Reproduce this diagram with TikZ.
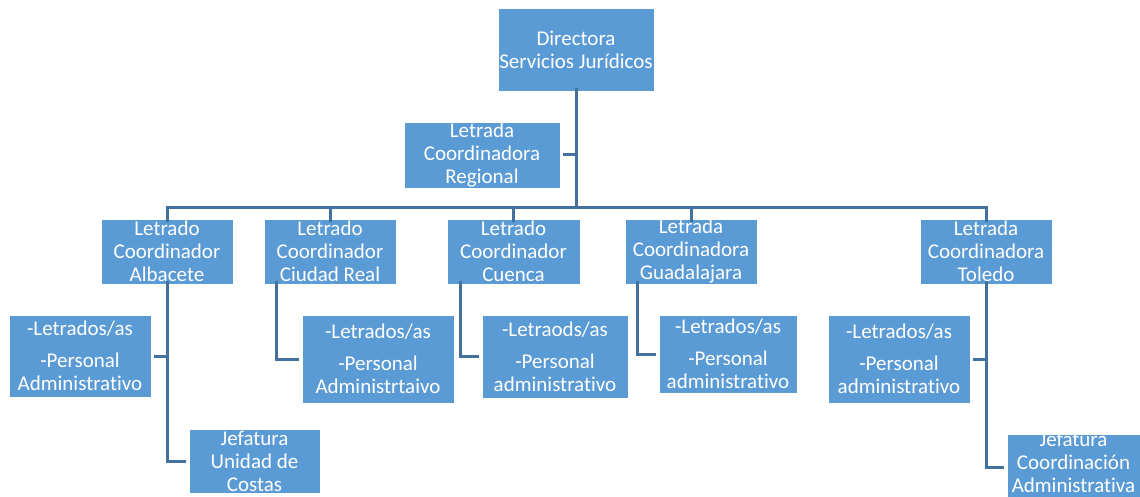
\documentclass[tikz,border=0pt]{standalone}
\usepackage{fontspec}
\setmainfont{Carlito}[Ligatures=NoCommon]
\definecolor{boxblue}{HTML}{5B9BD5}
\definecolor{lineblue}{HTML}{41719C}
\begin{document}
\begin{tikzpicture}[x=1pt,y=-1pt,
  orgbox/.style={rectangle,fill=boxblue,draw=white,line width=0.8pt,inner sep=0pt,outer sep=0pt},
  orgtext/.style={text=white,align=center,inner sep=0pt,font=\fontsize{21}{23}\selectfont},
  conn/.style={draw=lineblue,line width=3pt}]
\clip (0,0) rectangle (1140,497);
\useasboundingbox (0,0) rectangle (1140,497);
\fill[white] (0,0) rectangle (1140,497);
% boxes
\node[orgbox,minimum width=156pt,minimum height=83pt] (dir) at (576,49.5) {};
\node[orgbox,minimum width=156pt,minimum height=66pt] (reg) at (482,155) {};
\node[orgbox,minimum width=132pt,minimum height=65pt] (alb) at (167,251.5) {};
\node[orgbox,minimum width=132pt,minimum height=65pt] (ciu) at (330,251.5) {};
\node[orgbox,minimum width=133pt,minimum height=65pt] (cue) at (513.5,251.5) {};
\node[orgbox,minimum width=132pt,minimum height=65pt] (gua) at (691,251.5) {};
\node[orgbox,minimum width=132pt,minimum height=65pt] (tol) at (986,251.5) {};
\node[orgbox,minimum width=142pt,minimum height=82pt] (albL) at (80,356) {};
\node[orgbox,minimum width=131pt,minimum height=64pt] (albJ) at (254.5,461) {};
\node[orgbox,minimum width=152pt,minimum height=88pt] (ciuL) at (378,359) {};
\node[orgbox,minimum width=146pt,minimum height=83pt] (cueL) at (555,356.5) {};
\node[orgbox,minimum width=138pt,minimum height=78pt] (guaL) at (728,354) {};
\node[orgbox,minimum width=142pt,minimum height=88pt] (tolL) at (899,359) {};
\node[orgbox,minimum width=133pt,minimum height=66pt] (tolJ) at (1073.5,467) {};
% texts
\node[orgtext] (tdir) at (dir.center) {Directora\\Servicios Jurídicos};
\node[orgtext] (treg) at (reg.center) {Letrada\\Coordinadora\\Regional};
\node[orgtext] (talb) at (alb.center) {Letrado\\Coordinador\\Albacete};
\node[orgtext] (tciu) at (ciu.center) {Letrado\\Coordinador\\Ciudad Real};
\node[orgtext] (tcue) at (cue.center) {Letrado\\Coordinador\\Cuenca};
\node[orgtext] (tgua) at (gua.center) {Letrada\\Coordinadora\\Guadalajara};
\node[orgtext] (ttol) at (tol.center) {Letrada\\Coordinadora\\Toledo};
\node[orgtext] (talbL) at (albL.center) {-Letrados/as\\[9pt]-Personal\\Administrativo};
\node[orgtext] (talbJ) at (albJ.center) {Jefatura\\Unidad de\\Costas};
\node[orgtext] (tciuL) at (ciuL.center) {-Letrados/as\\[9pt]-Personal\\Administrtaivo};
\node[orgtext] (tcueL) at (cueL.center) {-Letraods/as\\[9pt]-Personal\\administrativo};
\node[orgtext] (tguaL) at (guaL.center) {-Letrados/as\\[9pt]-Personal\\administrativo};
\node[orgtext] (ttolL) at (tolL.center) {-Letrados/as\\[9pt]-Personal\\administrativo};
\node[orgtext] (ttolJ) at (1073.5,462) {Jefatura\\Coordinación\\Administrativa};
% connectors
\coordinate (bus) at (576,208);
\draw[conn] ([yshift=3pt]dir.south) -- (bus);
\draw[conn] ([xshift=3pt]reg.east) -- (reg.east -| dir.south);
\draw[conn] ([yshift=-3pt]alb.north) -- (alb.north |- bus) -- (tol.north |- bus) -- ([yshift=-3pt]tol.north);
\draw[conn] ([yshift=-3pt]ciu.north) -- (ciu.north |- bus);
\draw[conn] ([yshift=-3pt]cue.north) -- (cue.north |- bus);
\draw[conn] ([yshift=-3pt]gua.north) -- (gua.north |- bus);
% Albacete
\draw[conn] ([yshift=3pt]alb.south) -- (albJ.west -| alb.south) -- ([xshift=-3pt]albJ.west);
\draw[conn] ([xshift=3pt]albL.east) -- (albL.east -| alb.south);
% Ciudad Real
\draw[conn] ([xshift=12pt,yshift=3pt]ciu.south west) -- ([xshift=12pt]ciu.south west |- ciuL.west) -- ([xshift=-3pt]ciuL.west);
% Cuenca
\draw[conn] ([xshift=13pt,yshift=3pt]cue.south west) -- ([xshift=13pt]cue.south west |- cueL.west) -- ([xshift=-3pt]cueL.west);
% Guadalajara
\draw[conn] ([xshift=12pt,yshift=3pt]gua.south west) -- ([xshift=12pt]gua.south west |- guaL.west) -- ([xshift=-3pt]guaL.west);
% Toledo
\draw[conn] ([yshift=3pt]tol.south) -- (tolJ.west -| tol.south) -- ([xshift=-3pt]tolJ.west);
\draw[conn] ([xshift=3pt]tolL.east) -- (tolL.east -| tol.south);
\end{tikzpicture}
\end{document}
